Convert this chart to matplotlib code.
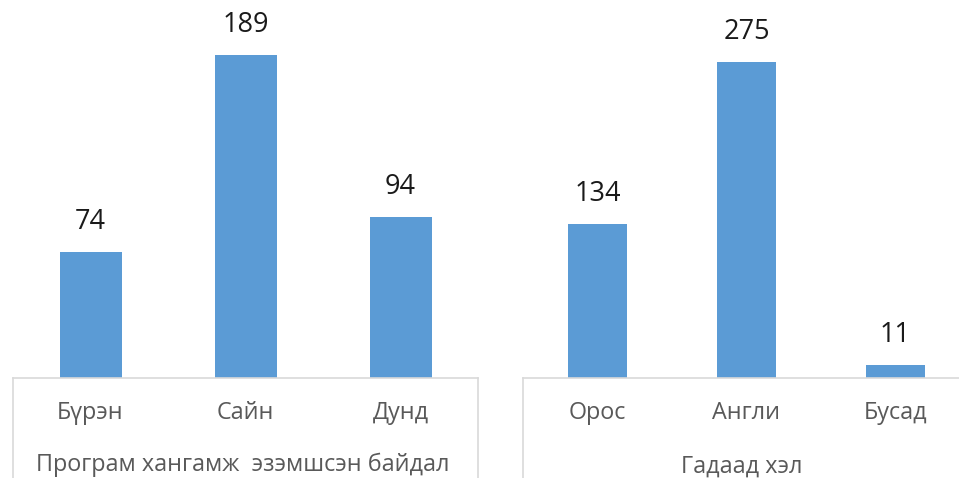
import matplotlib.pyplot as plt

plt.rcParams['font.family'] = ['Open Sans', 'DejaVu Sans']

# left panel data
skill_cats = ['Бүрэн', 'Сайн', 'Дунд']
skill_vals = [74, 189, 94]
skill_title = 'Програм хангамж  эзэмшсэн байдал'

# right panel data
lang_cats = ['Орос', 'Англи', 'Бусад']
lang_vals = [134, 275, 11]
lang_title = 'Гадаад хэл'

bar_color = '#5B9BD5'
grid_color = '#D9D9D9'
text_gray = '#595959'

W, H = 959, 478
fig = plt.figure(figsize=(W / 100, H / 100), dpi=100)

base_px = 378  # axis line position from top


def panel(left_px, width_px, cats, vals, ymax):
    ax = fig.add_axes([left_px / W, (H - base_px) / H, width_px / W, base_px / H])
    x = range(len(cats))
    ax.bar(x, vals, width=0.4, color=bar_color, zorder=2)
    ax.set_xlim(-0.5, len(cats) - 0.5)
    ax.set_ylim(0, ymax)
    for s in ['top', 'right', 'left']:
        ax.spines[s].set_visible(False)
    ax.spines['bottom'].set_color(grid_color)
    ax.spines['bottom'].set_linewidth(1.2)
    ax.set_xticks([])
    ax.set_yticks([])
    ax.patch.set_alpha(0)

    # vertical borders of the label area
    below = -(H - base_px) / base_px
    for xe in [0, 1]:
        ax.plot([xe, xe], [0, below], transform=ax.transAxes, color=grid_color,
                lw=1.2, clip_on=False)

    # value labels above bars
    for xi, v in zip(x, vals):
        ax.annotate(str(v), (xi, v), xytext=(0, 30), textcoords='offset pixels',
                    ha='center', va='center', fontsize=19.5, color='#1a1a1a')

    # category labels
    for xi, c in zip(x, cats):
        ax.annotate(c, (xi, 0), xycoords=('data', 'axes fraction'), xytext=(0, -35),
                    textcoords='offset pixels', ha='center', va='center',
                    fontsize=16.8, color=text_gray)
    return ax


ax1 = panel(13, 465, skill_cats, skill_vals, base_px / 1.709)
ax1.annotate(skill_title, (0.5, 0), xycoords='axes fraction', xytext=(-3, -87),
             textcoords='offset pixels', ha='center', va='center',
             fontsize=16.8, color=text_gray)

ax2 = panel(523, 447, lang_cats, lang_vals, base_px / 1.149)
ax2.annotate(lang_title, (1, 0), xycoords=('data', 'axes fraction'), xytext=(-5, -89),
             textcoords='offset pixels', ha='center', va='center',
             fontsize=16.8, color=text_gray)

fig.savefig('out.png', dpi=100)
